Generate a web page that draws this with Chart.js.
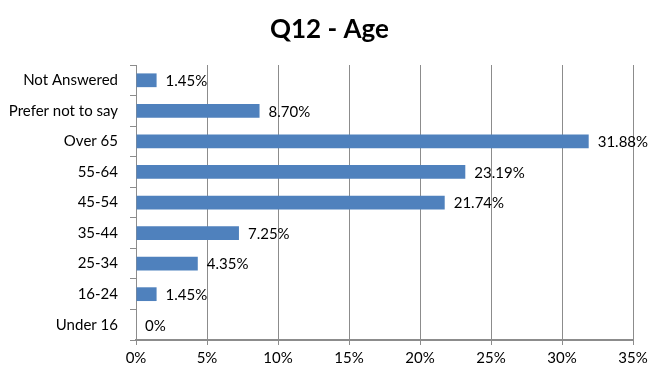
<!DOCTYPE html>
<html>
<head>
<meta charset="utf-8">
<script src="https://cdn.jsdelivr.net/npm/chart.js@4"></script>
<style>
  html, body { margin: 0; padding: 0; background: #fff; }
  #wrap { width: 659px; height: 377px; position: relative; }
</style>
</head>
<body>
<div id="wrap"><canvas id="grafico"></canvas></div>
<script>
var categorias = ['Not Answered', 'Prefer not to say', 'Over 65', '55-64', '45-54', '35-44', '25-34', '16-24', 'Under 16'];
var porcentajes = [1.45, 8.70, 31.88, 23.19, 21.74, 7.25, 4.35, 1.45, 0];
var titulo = 'Q12 - Age';

var fuente = 'Lato, "Open Sans", sans-serif';

// etiquetas al final de cada barra
var etiquetas = {
    id: 'etiquetas',
    afterDatasetsDraw: function (chart) {
        var c = chart.ctx;
        var meta = chart.getDatasetMeta(0);
        c.save();
        c.font = '15px ' + fuente;
        c.fillStyle = '#000';
        c.textBaseline = 'middle';
        c.textAlign = 'left';
        meta.data.forEach(function (bar, i) {
            var v = porcentajes[i];
            var txt = v === 0 ? '0%' : v.toFixed(2) + '%';
            c.fillText(txt, bar.x + 9, bar.y + 1);
        });
        c.restore();
    }
};

// titulo centrado en todo el lienzo
var tituloCentrado = {
    id: 'tituloCentrado',
    afterDraw: function (chart) {
        var c = chart.ctx;
        c.save();
        c.font = 'bold 26px ' + fuente;
        c.fillStyle = '#000';
        c.textAlign = 'center';
        c.textBaseline = 'middle';
        c.fillText(titulo, chart.width / 2, 30);
        c.restore();
    }
};

var ctx = document.getElementById('grafico').getContext('2d');
var chart_edad = new Chart(ctx, {
    type: 'bar',
    data: {
        labels: categorias,
        datasets: [{
            data: porcentajes,
            backgroundColor: '#4F81BD',
            borderWidth: 0,
            barPercentage: 0.9,
            categoryPercentage: 0.5
        }]
    },
    options: {
        indexAxis: 'y',
        responsive: true,
        maintainAspectRatio: false,
        animation: false,
        layout: { padding: { left: 0, right: 26, top: 65, bottom: 0 } },
        plugins: {
            legend: { display: false },
            tooltip: { enabled: false },
            title: { display: false }
        },
        scales: {
            x: {
                min: 0,
                max: 35,
                ticks: {
                    stepSize: 5,
                    color: '#000',
                    font: { family: fuente, size: 15 },
                    padding: 4,
                    callback: function (v) { return v + '%'; }
                },
                grid: {
                    color: '#8c8c8c',
                    lineWidth: 1,
                    tickLength: 5,
                    tickColor: '#8c8c8c'
                },
                border: { color: '#8c8c8c', width: 2 },
                afterFit: function (s) { s.height = 37; }
            },
            y: {
                ticks: {
                    color: '#000',
                    font: { family: fuente, size: 15 },
                    padding: 12
                },
                grid: {
                    drawOnChartArea: false,
                    tickLength: 6,
                    tickColor: '#8c8c8c'
                },
                border: { color: '#8c8c8c', width: 1 },
                afterFit: function (s) { s.width = 136; }
            }
        }
    },
    plugins: [etiquetas, tituloCentrado]
});
</script>
</body>
</html>
